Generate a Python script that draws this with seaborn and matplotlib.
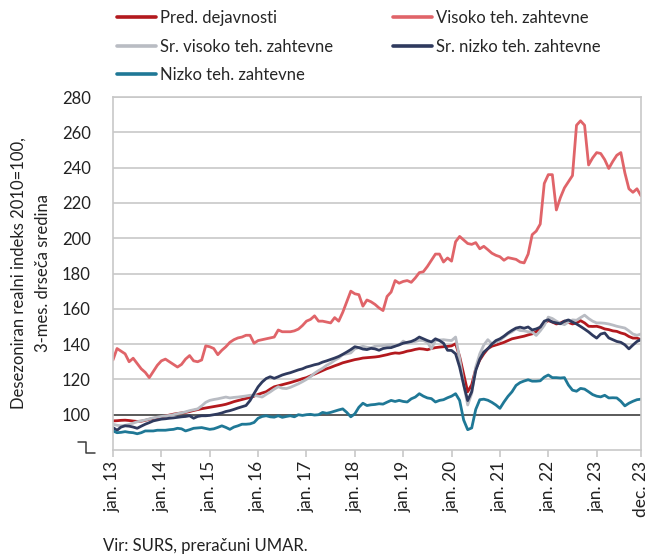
import matplotlib
matplotlib.use("Agg")
import matplotlib.pyplot as plt
from matplotlib.lines import Line2D
import seaborn as sns
import numpy as np
import pandas as pd

# monthly data, jan 2013 - dec 2023 (3-month moving average, 2010=100)
months = pd.date_range("2013-01-01", "2023-12-01", freq="MS")

pred_dejavnosti = [
    96.5, 96.6, 96.8, 96.9, 96.7, 96.4, 96.2, 96.3, 96.8, 97.4, 97.9, 98.3,
    98.8, 99.3, 99.8, 100.3, 100.7, 101.0, 101.3, 101.8, 102.4, 102.9, 103.4, 103.8,
    104.2, 104.6, 105.0, 105.4, 105.9, 106.6, 107.4, 108.0, 108.6, 109.2, 109.8, 110.5,
    111.5, 112.3, 113.0, 114.5, 115.8, 116.4, 117.0, 117.6, 118.2, 118.9, 119.6, 120.4,
    121.0, 122.0, 123.0, 124.0, 125.0, 126.0, 126.8, 127.7, 128.5, 129.4, 130.0, 130.6,
    131.2, 131.6, 132.1, 132.3, 132.5, 132.7, 133.0, 133.5, 134.0, 134.6, 135.0, 134.8,
    135.3, 136.0, 136.4, 137.0, 137.4, 137.2, 136.8, 137.5, 138.0, 138.3, 138.5, 138.7,
    139.0, 140.2, 133.0, 123.0, 113.0, 117.0, 126.0, 131.0, 134.5, 137.4, 138.8, 139.5,
    140.2, 141.0, 142.0, 143.0, 143.5, 144.0, 144.5, 145.2, 145.8, 147.0, 149.6, 152.0,
    153.3, 152.5, 151.4, 152.0, 153.0, 152.3, 151.4, 152.0, 153.3, 152.0, 150.1, 150.0,
    150.1, 149.5, 148.6, 148.2, 147.5, 147.2, 146.3, 145.7, 144.3, 143.4, 143.4, 142.5,
]
visoko = [
    131.0, 137.5, 136.0, 134.5, 130.0, 132.0, 129.0, 126.0, 124.0, 121.0, 124.5, 128.0,
    130.5, 131.5, 130.0, 128.5, 127.0, 128.5, 131.5, 133.5, 130.5, 130.0, 131.0, 139.0,
    138.5, 137.5, 134.0, 136.5, 138.5, 141.0, 142.5, 143.5, 144.0, 145.0, 145.0, 140.5,
    142.0, 142.5, 143.0, 143.5, 144.0, 148.0, 147.0, 147.0, 147.0, 147.5, 148.5, 150.5,
    153.0, 154.0, 156.0, 153.0, 153.0, 152.5, 152.0, 155.0, 153.0, 158.0, 164.0, 170.0,
    168.5, 168.0, 161.5, 165.0, 164.0, 162.5, 160.5, 159.0, 167.0, 169.5, 176.0, 174.5,
    175.5, 176.0, 175.0, 177.5, 180.5, 181.0, 184.0, 187.5, 191.0, 191.0, 186.5, 188.8,
    187.0, 198.0, 201.0, 199.0, 197.0, 196.5, 197.5, 194.0, 195.4, 193.5, 191.5, 190.3,
    189.5, 187.5, 189.0, 188.5, 188.0, 186.5, 186.0, 191.0, 202.0, 204.0, 208.0, 231.0,
    236.0, 236.0, 216.0, 223.0, 228.5, 232.0, 235.5, 264.0, 266.5, 264.0, 241.5, 245.5,
    248.5, 248.0, 244.5, 239.5, 243.5, 247.0, 248.5, 237.0, 228.0, 226.0, 228.0, 224.0,
]
sr_visoko = [
    94.6, 94.0, 93.7, 94.0, 94.5, 95.2, 96.0, 96.5, 97.0, 97.6, 98.2, 98.6,
    99.0, 99.3, 99.6, 100.0, 100.6, 101.0, 101.6, 102.3, 102.8, 103.3, 105.0, 107.0,
    108.1, 108.6, 109.0, 109.5, 110.0, 109.5, 109.8, 110.0, 110.3, 110.6, 111.0, 111.0,
    110.5, 110.0, 111.5, 112.9, 114.5, 115.8, 115.0, 114.8, 115.5, 116.5, 117.5, 118.7,
    120.0, 121.5, 123.5, 125.0, 126.3, 128.0, 129.2, 130.8, 132.1, 134.0, 134.5, 135.0,
    137.3, 138.0, 138.8, 138.2, 137.9, 138.8, 139.0, 139.2, 139.5, 139.8, 139.0, 139.5,
    141.7, 140.5, 141.1, 141.5, 142.1, 142.0, 141.0, 137.4, 142.1, 142.3, 142.5, 142.2,
    142.0, 144.0, 132.0, 117.0, 105.5, 112.0, 127.0, 134.5, 139.5, 142.5, 140.2, 141.0,
    142.1, 144.0, 145.8, 147.0, 148.7, 147.7, 147.5, 147.0, 146.8, 144.9, 147.5, 150.6,
    155.3, 154.5, 153.0, 151.8, 151.0, 152.5, 153.7, 153.5, 155.0, 156.4, 154.5, 153.0,
    152.0, 152.0, 151.8, 151.4, 150.8, 150.1, 149.6, 149.1, 147.5, 145.7, 145.0, 145.7,
]
sr_nizko = [
    92.7, 91.2, 93.0, 93.7, 93.5, 93.0, 92.3, 93.5, 94.6, 95.5, 96.5, 97.0,
    97.5, 97.7, 98.0, 98.2, 98.5, 98.8, 99.0, 99.4, 98.0, 99.0, 99.4, 99.4,
    99.6, 100.0, 100.4, 101.0, 101.8, 102.3, 103.0, 103.8, 104.5, 105.2, 108.0, 112.0,
    115.8, 118.5, 120.5, 121.5, 120.6, 121.5, 122.5, 123.2, 123.8, 124.6, 125.4, 126.0,
    127.0, 127.6, 128.3, 128.8, 129.8, 130.5, 131.3, 132.1, 133.0, 134.2, 135.5, 136.9,
    138.5, 138.0, 137.2, 136.9, 137.6, 137.3, 136.5, 137.5, 137.9, 138.0, 138.8, 139.6,
    140.5, 141.0, 141.5, 142.5, 144.0, 143.0, 142.0, 141.2, 143.0, 142.0, 140.5, 136.5,
    136.4, 134.5, 127.0, 117.0, 108.0, 113.0, 125.0, 131.5, 135.5, 137.4, 140.0, 142.0,
    143.0, 144.5, 146.3, 147.8, 149.1, 149.6, 149.0, 149.7, 148.0, 148.6, 149.6, 153.0,
    153.8, 152.5, 152.0, 151.5, 153.0, 153.7, 152.5, 151.4, 150.0, 148.5, 146.9, 145.0,
    143.4, 145.7, 146.3, 143.5, 142.5, 141.5, 141.0, 139.6, 137.3, 139.5, 141.5, 142.5,
]
nizko = [
    90.8, 89.8, 90.0, 90.4, 90.0, 89.8, 89.2, 89.8, 90.8, 90.8, 90.8, 91.2,
    91.2, 91.2, 91.5, 91.7, 92.3, 92.0, 90.8, 91.5, 92.3, 92.5, 92.7, 92.2,
    91.7, 92.0, 92.8, 93.7, 92.8, 91.7, 93.0, 93.7, 94.6, 94.6, 94.8, 95.6,
    98.0, 99.0, 99.4, 98.8, 98.6, 99.4, 98.5, 99.0, 99.4, 98.8, 100.0, 99.6,
    100.0, 100.2, 99.8, 100.0, 101.3, 100.8, 101.3, 102.0, 102.7, 103.3, 101.3, 98.8,
    100.5, 104.2, 106.5, 105.2, 105.6, 105.8, 106.2, 106.0, 107.1, 108.1, 107.5, 108.1,
    107.5, 107.2, 109.0, 110.0, 111.9, 110.5, 109.5, 109.1, 107.2, 108.1, 108.5, 109.6,
    110.5, 111.9, 108.1, 97.0, 91.5, 92.5, 103.0, 108.5, 108.8, 108.2, 107.0, 105.5,
    103.6, 107.2, 110.4, 113.0, 116.6, 118.2, 119.1, 119.8, 119.0, 119.0, 119.2, 121.3,
    122.5, 121.0, 121.0, 120.8, 121.0, 116.8, 113.9, 113.3, 114.9, 114.5, 113.0, 111.4,
    110.5, 110.1, 111.0, 109.5, 109.6, 109.5, 107.6, 105.0, 106.5, 107.6, 108.5, 108.8,
]

series_names = ["Pred. dejavnosti", "Visoko teh. zahtevne", "Sr. visoko teh. zahtevne",
                "Sr. nizko teh. zahtevne", "Nizko teh. zahtevne"]
series_values = [pred_dejavnosti, visoko, sr_visoko, sr_nizko, nizko]
colors = ["#B3191E", "#E06469", "#B9BCC3", "#2F3A5E", "#1F7896"]

tick_pos = list(range(0, 121, 12)) + [131]
tick_labels = [f"jan. {y}" for y in range(13, 24)] + ["dec. 23"]

df = pd.DataFrame({
    "t": np.tile(np.arange(len(months)), len(series_names)),
    "series": np.repeat(series_names, len(months)),
    "value": np.concatenate(series_values),
})

sns.set_theme(style="white")
plt.rcParams["font.family"] = ["Lato", "DejaVu Sans"]

fig = plt.figure(figsize=(6.48, 5.54), dpi=100)
ax = fig.add_axes([113 / 648, 1 - 450 / 554, 528 / 648, 353 / 554])

grid_c = "#C8C8C8"
ax.set_ylim(80, 280)
ax.set_xlim(0, 131)
ax.set_yticks(range(100, 281, 20))
ax.yaxis.grid(True, color=grid_c, lw=1.2)
ax.set_axisbelow(True)
ax.axhline(100, color="#3C3C3C", lw=1.1, zorder=1.5)

sns.lineplot(data=df, x="t", y="value", hue="series", hue_order=series_names,
             palette=dict(zip(series_names, colors)), linewidth=2.0,
             legend=False, ax=ax)

for s in ax.spines.values():
    s.set_color(grid_c)
    s.set_linewidth(1.2)

ax.set_xticks(tick_pos)
ax.set_xticklabels(tick_labels, rotation=90)
ax.tick_params(axis="x", bottom=True, length=5, width=1.2, color=grid_c,
               labelsize=12.5, pad=3, labelcolor="#222222")
ax.tick_params(axis="y", left=False, labelsize=12, pad=10, labelcolor="#222222")
ax.set_xlabel("")
ax.set_ylabel("Desezoniran realni indeks 2010=100,\n3-mes. drseča sredina",
              fontsize=12, color="#222222", labelpad=8, linespacing=1.65)

# axis break mark below 100
fig.add_artist(Line2D([78 / 648, 86 / 648, 86 / 648, 95 / 648],
                      [1 - 442 / 554, 1 - 442 / 554, 1 - 453 / 554, 1 - 453 / 554],
                      color="#3C3C3C", lw=1.1))

# legend: two columns placed separately
handles = [Line2D([0], [0], color=c, lw=2.6) for c in colors]
leg_kw = dict(loc="upper left", frameon=False, fontsize=12, handlelength=2.35,
              handletextpad=0.2, labelspacing=0.75, borderaxespad=0, borderpad=0)
fig.legend([handles[i] for i in (0, 2, 4)], [series_names[i] for i in (0, 2, 4)],
           bbox_to_anchor=(117 / 648, 1 - 10 / 554), **leg_kw)
fig.legend([handles[i] for i in (1, 3)], [series_names[i] for i in (1, 3)],
           bbox_to_anchor=(393 / 648, 1 - 10 / 554), **leg_kw)

fig.text(103 / 648, 1 - 546 / 554, "Vir: SURS, preračuni UMAR.", fontsize=12,
         color="#222222", va="center", ha="left")

fig.savefig("out.png", dpi=100)
